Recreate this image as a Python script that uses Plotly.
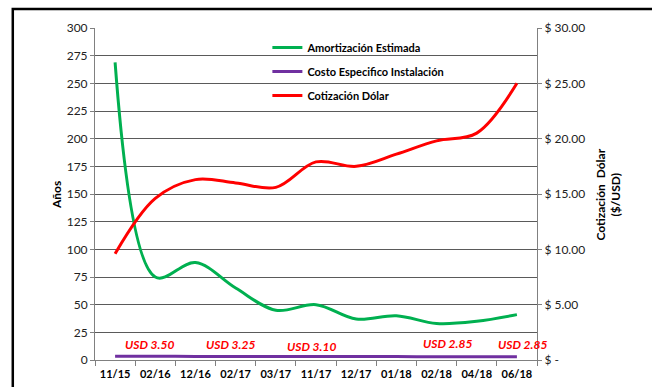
import plotly.graph_objects as go

categories = ["11/15", "02/16", "12/16", "02/17", "03/17", "11/17", "12/17", "01/18", "02/18", "04/18", "06/18"]
amortizacion = [269, 75, 88, 65, 45, 50, 37, 40, 33, 35, 41]
costo = [3.50, 3.50, 3.25, 3.25, 3.25, 3.10, 3.10, 3.10, 2.85, 2.85, 2.85]
cotizacion = [9.6, 14.6, 16.3, 16.0, 15.6, 17.9, 17.5, 18.6, 19.8, 20.5, 25.0]

label_idx = [1, 3, 5, 8, 10]
label_dx = [-6, -5, -5, 11, 6]
label_dy = [12, 12, 10, 13, 12]

FONT = "Lato, Carlito, Calibri, sans-serif"

fig = go.Figure()
fig.add_trace(go.Scatter(x=categories, y=amortizacion, name="Amortización Estimada",
                         mode="lines", line=dict(color="#00B050", width=3, shape="spline", smoothing=1.0),
                         legendgroup="a"))
fig.add_trace(go.Scatter(x=categories, y=costo, name="Costo Especifico Instalación",
                         mode="lines", line=dict(color="#7030A0", width=3, shape="spline"),
                         legendgroup="b"))
fig.add_trace(go.Scatter(x=categories, y=cotizacion, name="Cotización Dólar", yaxis="y2",
                         mode="lines", line=dict(color="#FF0000", width=3, shape="spline", smoothing=1.0),
                         legendgroup="c"))

annotations = []
for i, dx, dy in zip(label_idx, label_dx, label_dy):
    annotations.append(dict(x=categories[i], y=costo[i], xref="x", yref="y",
                            text=f"<b><i>USD {costo[i]:.2f}</i></b>", showarrow=False,
                            xshift=dx, yshift=dy, font=dict(color="#FF0000", size=12, family=FONT)))
annotations.append(dict(x=-0.086, y=0.497, xref="paper", yref="paper", text="<b>Años</b>",
                        xanchor="center", yanchor="middle",
                        textangle=-90, showarrow=False, font=dict(size=12, color="#000", family=FONT)))
annotations.append(dict(x=1.162, y=0.497, xref="paper", yref="paper",
                        text="<b>Cotización  Dólar<br>($/USD)</b>", xanchor="center", yanchor="middle",
                        textangle=-90, showarrow=False, font=dict(size=12, color="#000", family=FONT)))

fig.update_layout(
    width=652, height=387,
    margin=dict(l=95, r=115, t=28, b=27, autoexpand=False),
    paper_bgcolor="white", plot_bgcolor="white",
    font=dict(family=FONT, size=11, color="#333"),
    showlegend=True,
    legend=dict(x=0.39, y=0.985, xanchor="left", yanchor="top", bgcolor="rgba(0,0,0,0)",
                font=dict(size=11, color="#000", family=FONT, weight="bold"), tracegroupgap=5,
                itemwidth=30),
    xaxis=dict(type="category", range=[-0.5, len(categories) - 0.5], tickson="boundaries",
               ticks="outside", ticklen=5, tickcolor="#808080", tickangle=0,
               showline=True, linecolor="#808080", showgrid=False, automargin=False,
               ticklabelstandoff=4,
               tickfont=dict(size=11, color="#000", family=FONT, weight="bold")),
    yaxis=dict(range=[0, 300], tickvals=list(range(0, 301, 25)), ticks="outside", ticklen=4,
               tickcolor="#808080", showline=True, linecolor="#808080", gridcolor="#5a5a5a",
               gridwidth=1, zeroline=False, automargin=False, tickfont=dict(size=12, color="#222")),
    yaxis2=dict(range=[0, 30], overlaying="y", side="right", tickvals=list(range(0, 31, 5)),
                ticktext=["$ -"] + [f"$ {v:.2f}" for v in range(5, 31, 5)],
                ticks="outside", ticklen=4, tickcolor="#808080", showline=True, linecolor="#808080",
                showgrid=False, zeroline=False, automargin=False, tickfont=dict(size=12, color="#222")),
    annotations=annotations,
    shapes=[dict(type="rect", xref="paper", yref="paper", x0=-0.186, x1=1.27, y0=-0.15, y1=1.057,
                 line=dict(color="#000", width=2.5), layer="above")],
)

fig.write_html("out.html")
